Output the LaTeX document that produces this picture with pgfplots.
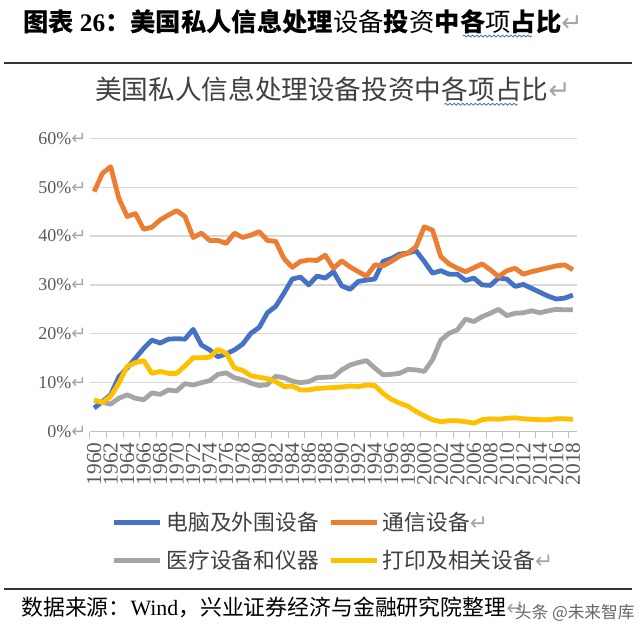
\documentclass[border=0pt]{standalone}
\usepackage{pgfplots}
\pgfplotsset{compat=1.18}
\usepackage{pgfplotstable}
\usepackage{fontspec}
\usetikzlibrary{decorations.pathmorphing}
\setmainfont{Liberation Serif}
\newfontfamily\cjk{Noto Sans CJK SC}
\newfontfamily\dejavu{DejaVu Sans}

\definecolor{cblue}{HTML}{4472C4}
\definecolor{corange}{HTML}{ED7D31}
\definecolor{cgray}{HTML}{A5A5A5}
\definecolor{cyellow}{HTML}{FFC000}
\definecolor{gridc}{HTML}{D9D9D9}
\definecolor{axisc}{HTML}{BFBFBF}
\definecolor{labc}{HTML}{595959}
\definecolor{legc}{HTML}{404040}
\definecolor{retc}{HTML}{A6A6A6}
\definecolor{wavyc}{HTML}{3F6FD1}
\definecolor{rulec}{HTML}{333333}

\newcommand\ret{{\dejavu\color{retc}↵}}

% share of each category in US private information processing equipment investment (%)
\pgfplotstableread{
year blue orange gray yellow
1960 4.8 49.1 6.3 6.5
1961 6.1 52.8 6.0 5.9
1962 7.5 54.2 5.6 7.2
1963 11.2 47.7 6.8 9.9
1964 13.0 44.0 7.5 13.3
1965 15.0 44.6 6.8 14.1
1966 17.0 41.4 6.5 14.5
1967 18.7 41.8 7.9 11.9
1968 18.1 43.3 7.6 12.3
1969 18.9 44.3 8.5 11.9
1970 19.0 45.2 8.3 11.9
1971 18.9 44.0 9.8 13.4
1972 20.9 39.7 9.5 15.1
1973 17.7 40.6 10.0 15.1
1974 16.7 39.1 10.4 15.2
1975 15.3 39.1 11.7 16.8
1976 15.9 38.5 12.0 16.0
1977 16.7 40.6 11.0 13.0
1978 17.9 39.7 10.6 12.5
1979 20.1 40.2 9.9 11.4
1980 21.3 40.9 9.4 11.1
1981 24.3 39.1 9.6 10.8
1982 25.6 38.9 11.3 10.2
1983 28.3 35.4 11.0 9.2
1984 31.2 33.6 10.3 9.3
1985 31.6 34.8 10.0 8.5
1986 30.0 35.1 10.2 8.5
1987 31.8 35.0 11.0 8.8
1988 31.4 36.1 11.1 8.9
1989 32.7 33.4 11.2 9.0
1990 29.8 34.9 12.6 9.1
1991 29.1 33.7 13.6 9.3
1992 30.7 32.7 14.1 9.2
1993 31.0 31.8 14.5 9.5
1994 31.2 34.1 13.0 9.4
1995 34.8 33.9 11.6 7.8
1996 35.4 34.8 11.7 6.6
1997 36.3 35.9 11.9 5.8
1998 36.5 36.5 12.7 5.2
1999 37.0 37.8 12.6 4.1
2000 34.8 41.9 12.3 3.2
2001 32.4 41.2 14.7 2.4
2002 32.9 35.8 18.7 2.0
2003 32.2 34.3 20.1 2.2
2004 32.2 33.4 20.8 2.2
2005 30.9 32.7 23.0 2.0
2006 31.4 33.5 22.5 1.7
2007 30.0 34.3 23.5 2.4
2008 29.9 33.1 24.2 2.6
2009 31.4 31.7 25.0 2.5
2010 31.2 32.9 23.7 2.7
2011 29.7 33.4 24.2 2.8
2012 30.1 32.2 24.3 2.6
2013 29.3 32.7 24.7 2.5
2014 28.5 33.1 24.3 2.4
2015 27.7 33.5 24.7 2.4
2016 27.1 33.9 25.0 2.6
2017 27.3 34.1 24.9 2.6
2018 27.9 33.1 24.9 2.5
}\datatable

\begin{document}
\begin{tikzpicture}
\fill[white] (0,0) rectangle (480pt,477.75pt);
\path[use as bounding box] (0,0) rectangle (480pt,477.75pt);

% heading of the figure
\begin{scope}[every node/.style={inner sep=0pt, outer sep=0pt, text=black}]
\node[anchor=base west, font=\fontsize{19pt}{22pt}\selectfont] (h1) at (17.25pt,454pt)
  {{\cjk\bfseries 图表}\textbf{ 26}{\cjk\bfseries ：美国私人信息处理}{\cjk 设备}{\cjk\bfseries 投}{\cjk 资}{\cjk\bfseries 中}};
\node[anchor=base west, font=\fontsize{19pt}{22pt}\selectfont] (h2) at (h1.base east)
  {{\cjk\bfseries 各}{\cjk 项}{\cjk\bfseries 占}};
\node[anchor=base west, font=\fontsize{19pt}{22pt}\selectfont] (h3) at (h2.base east)
  {{\cjk\bfseries 比}\ret};
\end{scope}
\draw[wavyc, line width=0.6pt, decoration={snake, amplitude=0.7pt, segment length=3.2pt}, decorate]
  ([xshift=2pt,yshift=-1.5pt]h2.south west) -- ([xshift=-3pt,yshift=-1.5pt]h2.south east);
\draw[rulec, line width=1.1pt] (3pt,430.5pt) -- (474pt,430.5pt);

% chart title
\begin{scope}[every node/.style={inner sep=0pt, outer sep=0pt, text=legc, font=\cjk\fontsize{20pt}{24pt}\selectfont}]
\node[anchor=base west] (c1) at (71.25pt,402.75pt) {美国私人信息处理设备投资中};
\node[anchor=base west] (c2) at (c1.base east) {各项占};
\node[anchor=base west] (c3) at (c2.base east) {比\ret};
\end{scope}
\draw[wavyc, line width=0.6pt, decoration={snake, amplitude=0.7pt, segment length=3.2pt}, decorate]
  ([xshift=2pt,yshift=-1.5pt]c2.south west) -- ([xshift=-3pt,yshift=-1.5pt]c2.south east);

\begin{axis}[
  at={(67.5pt,154.125pt)}, anchor=south west,
  scale only axis, width=365.25pt, height=219.9pt,
  xmin=1959.5, xmax=2018.5, ymin=0, ymax=60,
  axis x line*=bottom, axis y line*=left,
  x axis line style={-, draw=axisc, line width=0.75pt},
  y axis line style={draw=none},
  ytick={0,10,20,30,40,50,60},
  yticklabels={0\%\ret,10\%\ret,20\%\ret,30\%\ret,40\%\ret,50\%\ret,60\%\ret},
  xtick={1960,1962,...,2018},
  xticklabels={1960,1962,1964,1966,1968,1970,1972,1974,1976,1978,1980,1982,1984,1986,1988,1990,1992,1994,1996,1998,2000,2002,2004,2006,2008,2010,2012,2014,2016,2018},
  minor xtick={1959.5,1961.5,...,2017.5},
  major tick length=0pt, minor tick length=4.5pt, tick align=outside,
  minor x tick style={draw=axisc, line width=0.75pt},
  ymajorgrids, major grid style={draw=gridc, line width=1pt},
  xticklabel style={font=\fontsize{16pt}{18pt}\selectfont, text=labc, inner sep=0pt, yshift=-8pt, rotate=90, anchor=east},
  yticklabel style={font=\fontsize{13.5pt}{15pt}\selectfont, text=labc, inner sep=0pt, anchor=east, xshift=-2.5pt},
  legend columns=2,
  legend cell align=left,
  legend style={at={(0.045,-0.2677)}, anchor=north west, draw=none, fill=none,
    inner sep=0pt, outer sep=0pt,
    font=\cjk\fontsize{16.3pt}{19pt}\selectfont, text=legc,
    /tikz/every even column/.append style={column sep=4pt},
    /tikz/row sep=9pt,
    nodes={inner xsep=3pt, inner ysep=2pt}},
  legend image code/.code={\draw[#1] (0pt,0pt) -- (34.5pt,0pt);},
  every axis plot/.append style={line width=3.6pt, line join=round},
]
\addplot[cblue] table[x=year, y=blue]{\datatable};
\addlegendentry{电脑及外围设备}
\addplot[corange] table[x=year, y=orange]{\datatable};
\addlegendentry{通信设备\ret}
\addplot[cgray] table[x=year, y=gray]{\datatable};
\addlegendentry{医疗设备和仪器}
\addplot[cyellow] table[x=year, y=yellow]{\datatable};
\addlegendentry{打印及相关设备\ret}
\end{axis}

% source line
\draw[rulec, line width=1.1pt] (3pt,36pt) -- (474pt,36pt);
\node[anchor=base west, inner sep=0pt, text=black, font=\fontsize{16.4pt}{19pt}\selectfont] at (15.75pt,16.3pt)
  {{\cjk 数据来源：}Wind{\cjk ，兴业证券经济与金融研究院整理}\ret};
\node[anchor=base west, inner sep=0pt, text=black!60, font=\cjk\fontsize{12.5pt}{14pt}\selectfont] at (386pt,14.25pt)
  {头条 @未来智库};
\end{tikzpicture}
\end{document}
